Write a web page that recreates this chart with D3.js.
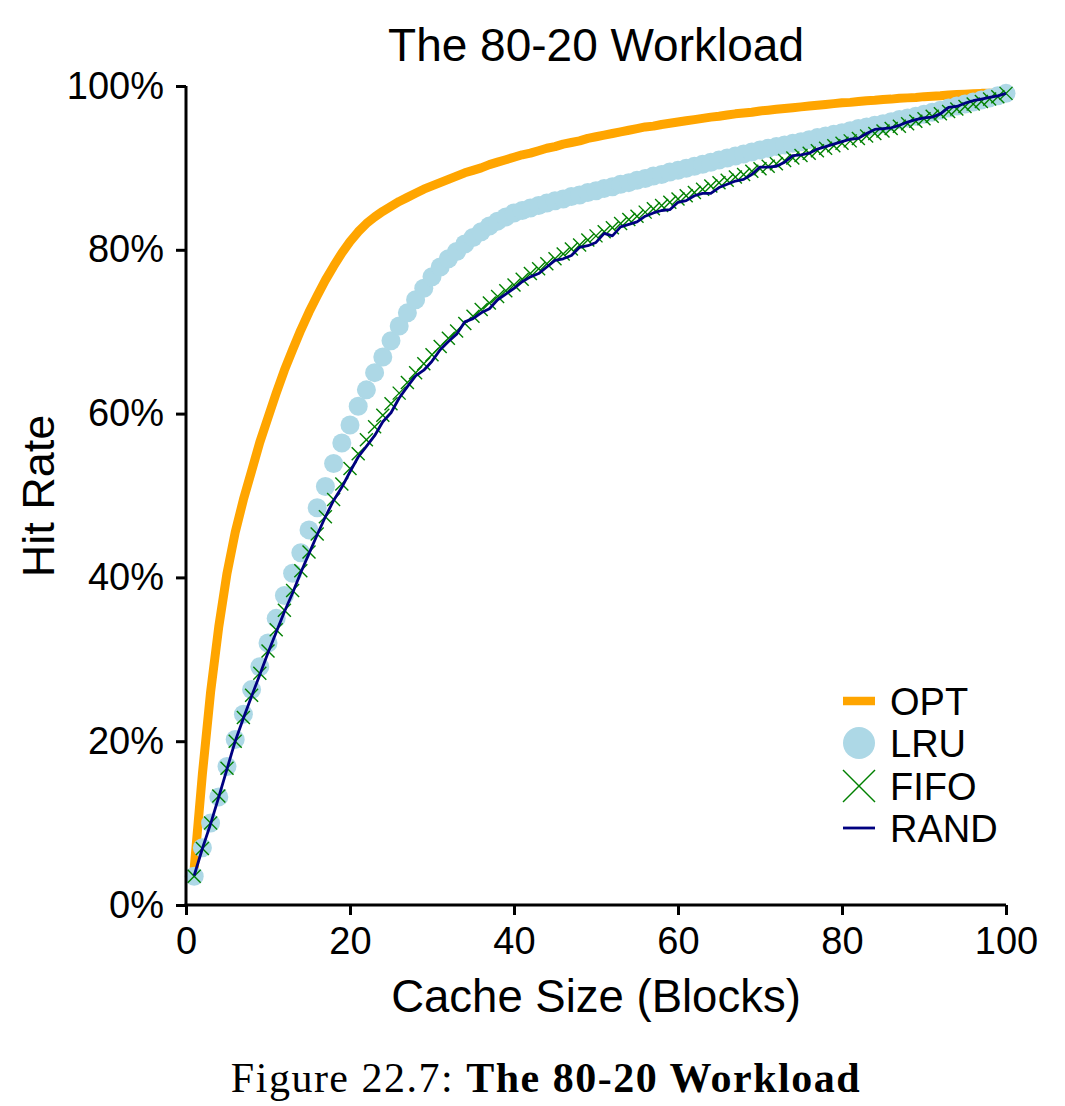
<!DOCTYPE html>
<html>
<head>
<meta charset="utf-8">
<script src="https://cdn.jsdelivr.net/npm/d3@7"></script>
<style>
  html, body { margin: 0; padding: 0; background: #fff; }
  svg { display: block; }
</style>
</head>
<body>
<svg id="chart" width="1065" height="1106"></svg>
<script>
// ---------- data ----------
const cacheSizes = [1,2,3,4,5,6,7,8,9,10,11,12,13,14,15,16,17,18,19,20,
  21,22,23,24,25,26,27,28,29,30,31,32,33,34,35,36,37,38,39,40,
  41,42,43,44,45,46,47,48,49,50,51,52,53,54,55,56,57,58,59,60,
  61,62,63,64,65,66,67,68,69,70,71,72,73,74,75,76,77,78,79,80,
  81,82,83,84,85,86,87,88,89,90,91,92,93,94,95,96,97,98,99,100];

const optHits = [4.5,16,26,34,40.5,45.5,49.5,53,56.5,59.5,
  62.5,65.3,67.8,70.2,72.4,74.4,76.3,78.0,79.6,81.0,
  82.2,83.2,84.0,84.7,85.3,85.9,86.4,86.9,87.4,87.8,
  88.2,88.6,89.0,89.4,89.7,90.0,90.4,90.7,91.0,91.3,
  91.6,91.8,92.1,92.4,92.6,92.9,93.1,93.3,93.6,93.8,
  94.0,94.2,94.4,94.6,94.8,95.0,95.1,95.3,95.45,95.6,
  95.75,95.9,96.05,96.2,96.3,96.45,96.6,96.7,96.8,96.95,
  97.05,97.15,97.25,97.35,97.45,97.55,97.65,97.75,97.85,97.95,
  98.0,98.1,98.2,98.25,98.35,98.4,98.5,98.55,98.6,98.7,
  98.75,98.8,98.9,98.95,99.0,99.05,99.1,99.1,99.1,99.1];

const lruHits = [3.5,7.0,10.0,13.2,16.9,20.2,23.3,26.3,29.1,32.0,
  35.0,37.8,40.5,43.0,45.8,48.5,51.1,53.9,56.4,58.6,
  60.9,62.9,65.0,66.9,68.9,70.7,72.3,73.9,75.3,76.7,
  77.9,78.9,79.8,80.7,81.5,82.2,82.9,83.5,84.0,84.5,
  84.8,85.1,85.4,85.7,86.0,86.2,86.5,86.7,87.0,87.2,
  87.5,87.7,88.0,88.2,88.5,88.7,89.0,89.2,89.5,89.7,
  89.95,90.2,90.45,90.7,90.95,91.2,91.45,91.7,91.95,92.2,
  92.4,92.6,92.8,93.0,93.2,93.45,93.7,93.9,94.1,94.3,
  94.55,94.8,95.0,95.2,95.4,95.65,95.9,96.1,96.3,96.55,
  96.8,97.05,97.3,97.55,97.8,98.05,98.3,98.55,98.8,99.1];

const fifoHits = [3.5,6.9,10.0,13.3,16.7,20.0,22.9,25.6,28.3,31.0,
  33.6,36.0,38.4,40.8,43.1,45.3,47.4,49.5,51.4,53.3,
  55.1,56.8,58.4,59.8,61.2,62.5,63.8,65.0,66.1,67.2,
  68.2,69.2,70.1,71.0,71.9,72.7,73.5,74.3,75.0,75.7,
  76.4,77.1,77.7,78.3,78.9,79.5,80.1,80.6,81.2,81.7,
  82.2,82.7,83.2,83.7,84.1,84.6,85.0,85.4,85.8,86.2,
  86.6,87.0,87.4,87.8,88.2,88.5,88.9,89.2,89.6,89.9,
  90.2,90.5,90.9,91.2,91.5,91.8,92.1,92.4,92.7,93.0,
  93.3,93.6,93.9,94.2,94.5,94.8,95.1,95.4,95.7,96.0,
  96.3,96.6,96.9,97.2,97.5,97.8,98.1,98.4,98.7,99.1];

const randHits = [3.6,6.9,9.9,13.2,16.6,20.0,22.8,25.5,28.1,30.8,
  33.3,35.8,38.1,40.6,42.9,45.2,47.4,49.4,51.0,52.9,
  54.7,56.0,57.3,59.0,60.1,61.9,63.3,64.6,65.3,66.4,
  67.8,68.8,69.7,71.2,71.6,72.3,72.8,73.9,74.6,75.3,
  76.1,76.7,77.1,77.9,78.7,78.9,79.3,80.3,80.5,80.9,
  82.0,81.7,82.8,83.1,83.4,84.1,84.5,84.8,84.9,85.8,
  86.0,86.6,86.9,86.9,87.6,88.0,88.4,88.6,89.2,90.1,
  90.1,90.2,90.7,91.5,91.6,91.8,92.3,92.6,92.9,93.2,
  93.5,93.6,94.2,94.7,94.8,94.9,95.2,95.6,95.9,96.1,
  96.2,96.6,97.4,97.5,97.9,98.2,98.4,98.6,98.8,99.1];

const xTicks = [0, 20, 40, 60, 80, 100];
const yTicks = [0, 20, 40, 60, 80, 100];
const seriesNames = ["OPT", "LRU", "FIFO", "RAND"];

// ---------- layout ----------
const svg = d3.select("#chart");
const font = "'Liberation Sans', Arial, Helvetica, sans-serif";
const x = d3.scaleLinear().domain([0, 100]).range([186, 1006]);
const y = d3.scaleLinear().domain([0, 100]).range([905, 86]);

const pts = arr => cacheSizes.map((c, i) => [c, arr[i]]);
const line = d3.line().x(d => x(d[0])).y(d => y(d[1]));

// OPT
svg.append("path").datum(pts(optHits))
  .attr("fill", "none").attr("stroke", "#FFA500")
  .attr("stroke-width", 9).attr("stroke-linejoin", "round")
  .attr("d", line);

// LRU
svg.append("g").selectAll("circle").data(pts(lruHits)).join("circle")
  .attr("cx", d => x(d[0])).attr("cy", d => y(d[1]))
  .attr("r", 9.5).attr("fill", "#ADD8E6");

// FIFO
const xMark = (g, s) => {
  g.append("line").attr("x1", -s).attr("y1", -s).attr("x2", s).attr("y2", s);
  g.append("line").attr("x1", -s).attr("y1", s).attr("x2", s).attr("y2", -s);
};
svg.append("g").attr("stroke", "#008000").attr("stroke-width", 1.4)
  .selectAll("g").data(pts(fifoHits)).join("g")
  .attr("transform", d => `translate(${x(d[0])},${y(d[1])})`)
  .each(function() { xMark(d3.select(this), 6.5); });

// RAND
svg.append("path").datum(pts(randHits))
  .attr("fill", "none").attr("stroke", "#000080")
  .attr("stroke-width", 2.8).attr("stroke-linejoin", "round")
  .attr("d", line);

// ---------- axes ----------
const xAxis = d3.axisBottom(x).tickValues(xTicks).tickSize(10).tickSizeOuter(0).tickPadding(12);
const yAxis = d3.axisLeft(y).tickValues(yTicks).tickSize(10).tickSizeOuter(0).tickPadding(12)
  .tickFormat(d => d + "%");

const gx = svg.append("g").attr("transform", "translate(0,905)").call(xAxis);
const gy = svg.append("g").attr("transform", "translate(186,0)").call(yAxis);
[gx, gy].forEach(g => {
  g.select(".domain").attr("stroke", "#000").attr("stroke-width", 3);
  g.selectAll(".tick line").attr("stroke", "#000").attr("stroke-width", 3);
  g.selectAll(".tick text").attr("fill", "#000")
    .style("font-family", font).style("font-size", "38px");
});
gx.select(".domain").attr("d", "M184.5,0H1006");
gy.select(".domain").attr("d", "M0,906.5V86");

// ---------- titles ----------
svg.append("text").attr("x", 596).attr("y", 61).attr("text-anchor", "middle")
  .style("font-family", font).style("font-size", "46px").text("The 80-20 Workload");
svg.append("text").attr("x", 596).attr("y", 1012).attr("text-anchor", "middle")
  .style("font-family", font).style("font-size", "45.5px").text("Cache Size (Blocks)");
svg.append("text").attr("transform", "translate(54,496) rotate(-90)").attr("text-anchor", "middle")
  .style("font-family", font).style("font-size", "45px").text("Hit Rate");

// ---------- legend ----------
const leg = svg.append("g");
const legY = [701, 743, 786, 828];
seriesNames.forEach((name, i) => {
  const cy = legY[i];
  if (name === "OPT") {
    leg.append("line").attr("x1", 843).attr("x2", 875).attr("y1", cy).attr("y2", cy)
      .attr("stroke", "#FFA500").attr("stroke-width", 8.5);
  } else if (name === "LRU") {
    leg.append("circle").attr("cx", 859).attr("cy", cy).attr("r", 16).attr("fill", "#ADD8E6");
  } else if (name === "FIFO") {
    const g = leg.append("g").attr("transform", `translate(859,${cy})`)
      .attr("stroke", "#008000").attr("stroke-width", 1.5);
    xMark(g, 16);
  } else {
    leg.append("line").attr("x1", 843).attr("x2", 875).attr("y1", cy).attr("y2", cy)
      .attr("stroke", "#000080").attr("stroke-width", 2.8);
  }
  leg.append("text").attr("x", 890).attr("y", cy + 14)
    .style("font-family", font).style("font-size", "38px").text(name);
});

// ---------- caption ----------
const cap = svg.append("text").attr("x", 546).attr("y", 1092).attr("text-anchor", "middle")
  .style("font-family", "'Liberation Serif', 'Times New Roman', serif").style("font-size", "42px")
  .style("letter-spacing", "1.5px");
cap.append("tspan").text("Figure 22.7: ");
cap.append("tspan").attr("font-weight", "bold").text("The 80-20 Workload");
</script>
</body>
</html>
